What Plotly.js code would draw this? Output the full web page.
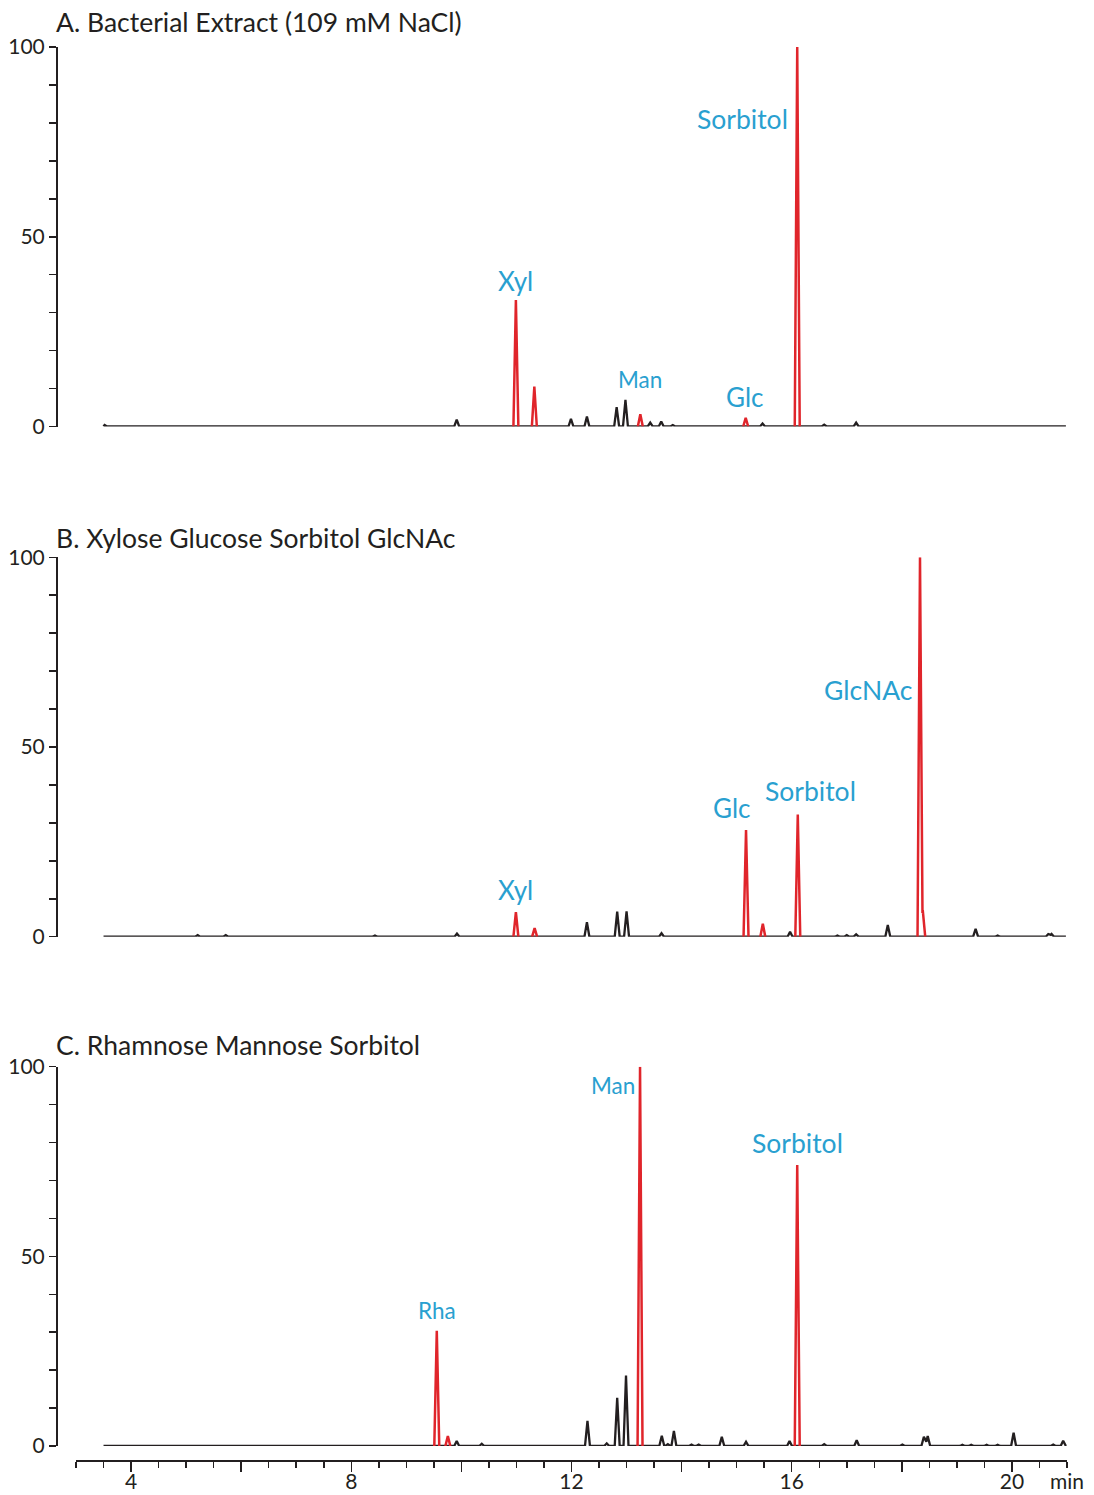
<!DOCTYPE html>
<html>
<head>
<meta charset="utf-8">
<script src="https://cdn.plot.ly/plotly-3.0.1.min.js"></script>
<style>
  html, body { margin: 0; padding: 0; background: #ffffff; }
  #chart { width: 1094px; height: 1495px; }
</style>
</head>
<body>
<div id="chart"></div>
<script>
// Retention times (min) and relative abundances (%) of the chromatogram peaks.
// Black = unassigned peaks, red = identified sugars.

// A. Bacterial Extract
const aBlackTimes   = [3.52, 9.915, 11.99, 12.28, 12.82, 12.98, 13.43, 13.63, 13.84, 15.47, 16.59, 17.17];
const aBlackHeights = [0.4, 1.8, 2.0, 2.6, 5.1, 7.0, 1.0, 1.3, 0.4, 0.8, 0.5, 1.0];
const aRedTimes     = [10.99, 11.325, 13.25, 15.164, 16.10];
const aRedHeights   = [33.3, 10.5, 3.2, 2.3, 100];

// B. Xylose Glucose Sorbitol GlcNAc
const bBlackTimes   = [5.21, 5.72, 8.43, 9.92, 12.28, 12.83, 13.0, 13.635, 15.97, 16.83, 17.0, 17.17, 17.745, 19.34, 19.74, 20.66, 20.72];
const bBlackHeights = [0.4, 0.4, 0.3, 0.8, 3.8, 6.6, 6.7, 0.9, 1.3, 0.3, 0.4, 0.6, 3.1, 2.1, 0.3, 0.7, 0.7];
const bRedTimes     = [10.99, 11.33, 15.17, 15.475, 16.11, 18.33, 18.38];
const bRedHeights   = [6.5, 2.3, 28.1, 3.4, 32.2, 100, 7.0];

// C. Rhamnose Mannose Sorbitol
const cBlackTimes   = [9.915, 10.37, 12.29, 12.64, 12.83, 12.99, 13.64, 13.75, 13.86, 14.18, 14.31, 14.73, 15.17, 15.96, 16.59, 17.18, 18.01, 18.40, 18.47, 19.10, 19.26, 19.54, 19.74, 20.03, 20.75, 20.93];
const cBlackHeights = [1.3, 0.6, 6.6, 0.7, 12.7, 18.6, 2.7, 0.5, 4.0, 0.4, 0.4, 2.4, 1.1, 1.3, 0.5, 1.5, 0.4, 2.4, 2.6, 0.3, 0.3, 0.3, 0.3, 3.5, 0.4, 1.4];
const cRedTimes     = [9.553, 9.754, 13.245, 16.10];
const cRedHeights   = [30.4, 2.6, 100, 74.1];

// Run window (min)
const runStart = 3.5;
const runEnd = 20.98;

// Axis ticks
const yTickVals = [0, 10, 20, 30, 40, 50, 60, 70, 80, 90, 100];
const yTickText = ['0', '', '', '', '', '50', '', '', '', '', '100'];
const xTickVals = [4, 6, 8, 10, 12, 14, 16, 18, 20];
const xTickText = ['4', '', '8', '', '12', '', '16', '', '20'];

// ---- drawing ----
const FONT = 'Lato, "Open Sans", sans-serif';
const INK = '#231f20';
const RED = '#e0252b';
const CYAN = '#29a0d0';
const HALF_WIDTH = 0.045;   // half base width of a drawn peak, in minutes

// Height of the summed triangular peaks at time v
function sumAt(v, times, heights) {
  let s = 0;
  times.forEach((t, i) => {
    const d = Math.abs(v - t);
    if (d < HALF_WIDTH) s += heights[i] * (1 - d / HALF_WIDTH);
  });
  return s;
}

// Peaks are drawn as narrow triangles on a zero baseline; overlapping ones add up.
// withBaseline: one continuous trace over the run; otherwise separate peak groups.
function peakTrace(times, heights, withBaseline) {
  const order = times.map((t, i) => i).sort((a, b) => times[a] - times[b]);
  const groups = [];
  order.forEach(i => {
    const t = times[i];
    const g = groups[groups.length - 1];
    if (g && t - HALF_WIDTH < g.end) { g.xs.push(t, t + HALF_WIDTH); g.end = t + HALF_WIDTH; }
    else groups.push({ xs: [t - HALF_WIDTH, t, t + HALF_WIDTH], end: t + HALF_WIDTH });
  });
  const x = [], y = [];
  if (withBaseline) { x.push(runStart); y.push(0); }
  groups.forEach(g => {
    const xs = g.xs.slice().sort((a, b) => a - b);
    xs.forEach(v => {
      if (withBaseline && (v < runStart || v > runEnd)) return;
      x.push(v); y.push(sumAt(v, times, heights));
    });
    if (!withBaseline) { x.push(null); y.push(null); }
  });
  if (withBaseline) { x.push(runEnd); y.push(0); }
  return { x, y };
}

const panels = [
  { axis: 'y',  bt: aBlackTimes, bh: aBlackHeights, rt: aRedTimes, rh: aRedHeights },
  { axis: 'y2', bt: bBlackTimes, bh: bBlackHeights, rt: bRedTimes, rh: bRedHeights },
  { axis: 'y3', bt: cBlackTimes, bh: cBlackHeights, rt: cRedTimes, rh: cRedHeights }
];

const traces = [];
panels.forEach(p => {
  const k = peakTrace(p.bt, p.bh, true);
  traces.push({ x: k.x, y: k.y, xaxis: 'x', yaxis: p.axis, type: 'scatter', mode: 'lines',
                line: { color: INK, width: 2.3 }, hoverinfo: 'skip', showlegend: false });
  const r = peakTrace(p.rt, p.rh, false);
  traces.push({ x: r.x, y: r.y, xaxis: 'x', yaxis: p.axis, type: 'scatter', mode: 'lines',
                line: { color: RED, width: 2.5 }, hoverinfo: 'skip', showlegend: false,
                connectgaps: false });
});

// Layout geometry
const W = 1094, H = 1495;
const M = { l: 40, r: 27, t: 47, b: 34 };
const plotW = W - M.l - M.r, plotH = H - M.t - M.b;
const px = v => (v - M.l) / plotW;          // pixel column -> paper x
const py = v => (H - M.b - v) / plotH;       // pixel row -> paper y

function yAxis(top, bottom) {
  return {
    domain: [py(bottom), py(top)], range: [0, 100], anchor: 'free', position: px(57),
    showline: true, linewidth: 2, linecolor: INK, mirror: false,
    ticks: 'outside', ticklen: 7, tickwidth: 1.5, tickcolor: INK,
    tickmode: 'array', tickvals: yTickVals, ticktext: yTickText,
    tickfont: { family: FONT, size: 21, color: INK },
    showgrid: false, zeroline: false, fixedrange: true
  };
}

function label(text, x, y, axis, size) {
  return { text, x, y, xref: 'x', yref: axis, showarrow: false,
           xanchor: 'center', yanchor: 'middle',
           font: { family: FONT, size, color: CYAN } };
}
function title(text, row) {
  return { text, x: px(54), y: py(row), xref: 'paper', yref: 'paper', showarrow: false,
           xanchor: 'left', yanchor: 'middle',
           font: { family: FONT, size: 26.5, color: INK } };
}

const layout = {
  width: W, height: H,
  margin: M,
  paper_bgcolor: '#ffffff', plot_bgcolor: '#ffffff',
  showlegend: false,
  xaxis: {
    domain: [px(76), 1], range: [3, 21], anchor: 'free', position: 0,
    showline: true, linewidth: 2, linecolor: INK,
    ticks: 'outside', ticklen: 10, tickwidth: 1.5, tickcolor: INK,
    tickmode: 'array', tickvals: xTickVals, ticktext: xTickText,
    tickfont: { family: FONT, size: 21, color: INK },
    ticklabelstandoff: -8,
    minor: { ticks: 'outside', ticklen: 6, tickwidth: 1.5, tickcolor: INK,
             tickmode: 'linear', tick0: 0, dtick: 0.5, showgrid: false },
    showgrid: false, zeroline: false, fixedrange: true
  },
  yaxis:  yAxis(47, 426.5),
  yaxis2: yAxis(557.3, 936.7),
  yaxis3: yAxis(1066.7, 1446),
  annotations: [
    title('A. Bacterial Extract (109 mM NaCl)', 22),
    title('B. Xylose Glucose Sorbitol GlcNAc', 538),
    title('C. Rhamnose Mannose Sorbitol', 1045),
    label('Sorbitol', 15.114, 81.0, 'y', 26.5),
    label('Xyl', 10.99, 38.3, 'y', 26),
    label('Man', 13.243, 12.5, 'y', 22.5),
    label('Glc', 15.15, 7.8, 'y', 26),
    label('Xyl', 10.99, 12.2, 'y2', 26),
    label('Glc', 14.914, 33.9, 'y2', 26),
    label('Sorbitol', 16.349, 38.3, 'y2', 26.5),
    label('GlcNAc', 17.384, 65.0, 'y2', 26.5),
    label('Man', 12.753, 95.0, 'y3', 22.5),
    label('Sorbitol', 16.113, 79.8, 'y3', 26.5),
    label('Rha', 9.556, 35.8, 'y3', 22.5),
    { text: 'min', x: 21, y: py(1480), xref: 'x', yref: 'paper', showarrow: false,
      xanchor: 'center', yanchor: 'middle', font: { family: FONT, size: 21, color: INK } }
  ]
};

Plotly.newPlot('chart', traces, layout, { staticPlot: true, displayModeBar: false });
</script>
</body>
</html>
